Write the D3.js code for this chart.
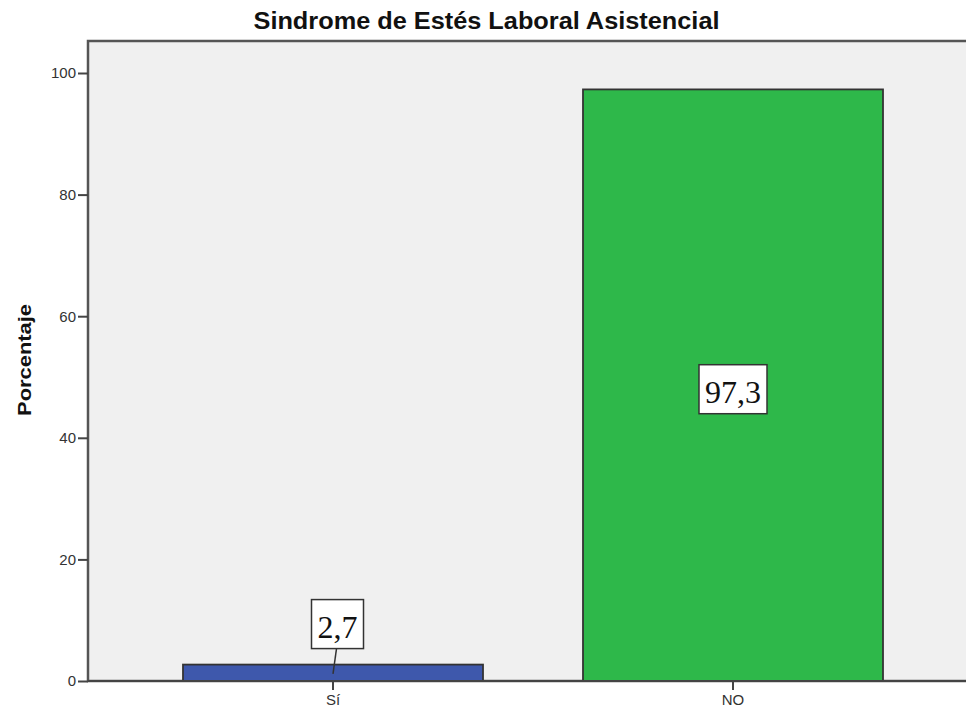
<!DOCTYPE html>
<html>
<head>
<meta charset="utf-8">
<script src="https://cdn.jsdelivr.net/npm/d3@7"></script>
<style>
  body { margin: 0; background: #fff; }
  svg { display: block; }
</style>
</head>
<body>
<svg id="chart" width="966" height="713"></svg>
<script>
"use strict";

// data
var categories = ["Sí", "NO"];
var values = [2.7, 97.3];
var valueLabels = ["2,7", "97,3"];
var barColors = ["#3e58ac", "#2eb84a"];
var yTicks = [0, 20, 40, 60, 80, 100];

var svg = d3.select("#chart");
var plot = { left: 88, top: 41, right: 972, bottom: 681 };
var sans = "Liberation Sans, Arial, sans-serif";

var x = d3.scaleBand()
	.domain(categories)
	.range([133, 933])
	.paddingInner(0.25)
	.paddingOuter(0.125);

var y = d3.scaleLinear()
	.domain([0, 100])
	.range([plot.bottom, 73]);

// plot background
svg.append("rect")
	.attr("x", plot.left)
	.attr("y", plot.top)
	.attr("width", plot.right - plot.left)
	.attr("height", plot.bottom - plot.top)
	.attr("fill", "#f0f0f0")
	.attr("stroke", "#555")
	.attr("stroke-width", 2.5);

// title
svg.append("text")
	.attr("x", 486.5)
	.attr("y", 29)
	.attr("text-anchor", "middle")
	.attr("font-family", sans)
	.attr("font-weight", "bold")
	.attr("font-size", 23)
	.attr("textLength", 466)
	.attr("lengthAdjust", "spacingAndGlyphs")
	.attr("fill", "#111")
	.text("Sindrome de Estés Laboral Asistencial");

// bars
svg.selectAll(".bar")
	.data(values)
	.enter().append("rect")
	.attr("class", "bar")
	.attr("x", function(d, i) { return x(categories[i]); })
	.attr("y", function(d) { return y(d); })
	.attr("width", x.bandwidth())
	.attr("height", function(d) { return y(0) - y(d); })
	.attr("fill", function(d, i) { return barColors[i]; })
	.attr("stroke", "#333")
	.attr("stroke-width", 1.8);

// y axis
var yAxis = svg.append("g")
	.attr("transform", "translate(" + plot.left + ",0)")
	.call(d3.axisLeft(y).tickValues(yTicks).tickSize(10).tickPadding(2));
yAxis.select(".domain").remove();
yAxis.selectAll("line").attr("stroke", "#444").attr("stroke-width", 2);
yAxis.selectAll("text")
	.attr("font-family", sans)
	.attr("font-size", 15)
	.attr("fill", "#333");

// x axis
var xAxis = svg.append("g")
	.attr("transform", "translate(0," + plot.bottom + ")")
	.call(d3.axisBottom(x).tickSize(9).tickPadding(4));
xAxis.select(".domain").remove();
xAxis.selectAll("line").attr("stroke", "#444").attr("stroke-width", 2);
xAxis.selectAll("text")
	.attr("font-family", sans)
	.attr("font-size", 15)
	.attr("fill", "#333");

svg.append("line")
	.attr("x1", plot.left).attr("x2", plot.right)
	.attr("y1", plot.bottom).attr("y2", plot.bottom)
	.attr("stroke", "#444")
	.attr("stroke-width", 2);

// y axis title
svg.append("text")
	.attr("transform", "translate(31,360) rotate(-90)")
	.attr("text-anchor", "middle")
	.attr("font-family", sans)
	.attr("font-weight", "bold")
	.attr("font-size", 19)
	.attr("textLength", 112)
	.attr("lengthAdjust", "spacingAndGlyphs")
	.attr("fill", "#111")
	.text("Porcentaje");

// value labels: small bar gets a box above with a leader line, big bar gets it in the middle
values.forEach(function(v, i) {
	var cx = x(categories[i]) + x.bandwidth() / 2;
	var h = y(0) - y(v);
	var inside = h > 60;
	var cy = inside ? y(v / 2) + 4 : y(v) - 40.5;
	var tx = cx + (inside ? 0 : 4.5);
	var g = svg.append("g");
	var t = g.append("text")
		.attr("x", tx)
		.attr("y", cy + 13.5)
		.attr("text-anchor", "middle")
		.attr("font-family", "Liberation Serif, Times New Roman, serif")
		.attr("font-size", 32)
		.attr("fill", "#111")
		.text(valueLabels[i]);
	var bb = t.node().getBBox();
	g.insert("rect", "text")
		.attr("x", bb.x - 6)
		.attr("y", cy - 24.5)
		.attr("width", bb.width + 12)
		.attr("height", 49)
		.attr("fill", "#fff")
		.attr("stroke", "#333")
		.attr("stroke-width", 1.5);
	if (!inside) {
		g.append("line")
			.attr("x1", tx - 1).attr("y1", cy + 24.5)
			.attr("x2", cx).attr("y2", y(v / 2) + 1)
			.attr("stroke", "#333")
			.attr("stroke-width", 1.5);
	}
});
</script>
</body>
</html>
